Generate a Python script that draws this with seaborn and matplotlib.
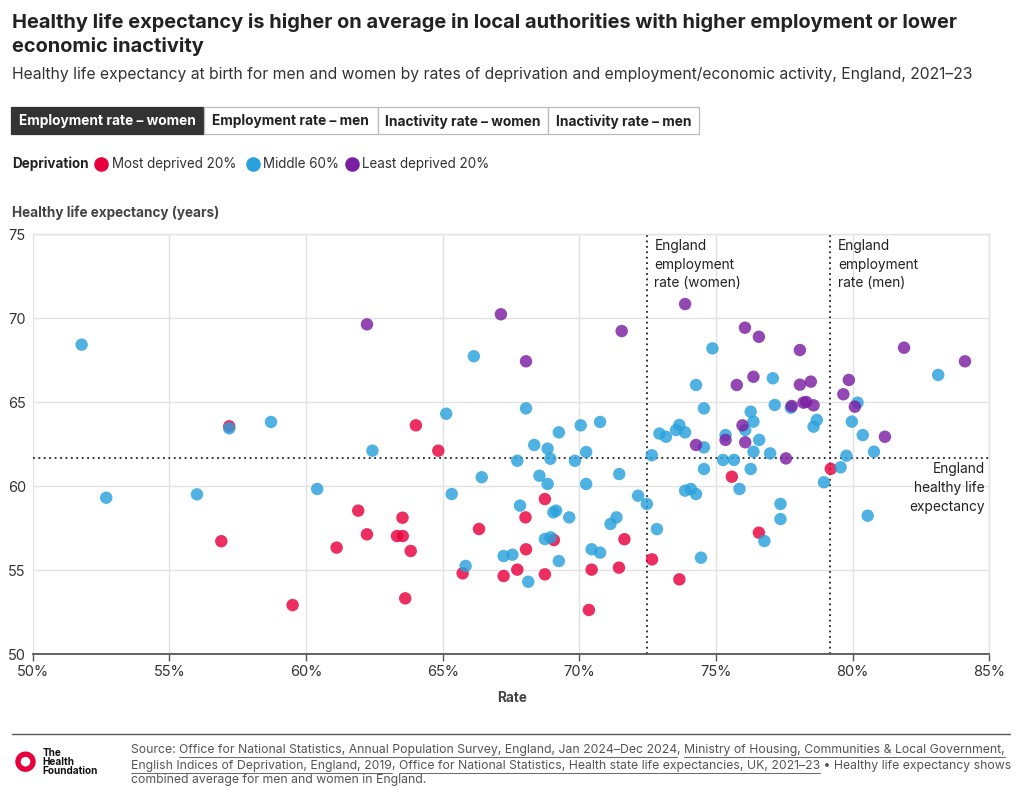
import matplotlib
matplotlib.use("Agg")
import matplotlib.pyplot as plt
import seaborn as sns
import pandas as pd
from matplotlib.patches import Rectangle, Wedge
from matplotlib.transforms import IdentityTransform

# ---------------- data ----------------
most_rate = [57.19, 56.90, 59.51, 61.12, 64.02, 64.84, 68.74, 61.91, 68.03, 63.53,
             66.33, 62.23, 63.33, 63.54, 63.83, 69.07, 71.65, 68.05, 72.66, 65.73,
             67.23, 67.73, 68.74, 70.45, 71.45, 63.63, 70.35, 75.58, 79.20, 76.57, 73.66]
most_hle = [63.57, 56.73, 52.93, 56.35, 63.63, 62.12, 59.24, 58.55, 58.15, 58.13,
            57.46, 57.14, 57.04, 57.04, 56.15, 56.80, 56.85, 56.25, 55.65, 54.82,
            54.66, 55.04, 54.76, 55.04, 55.16, 53.33, 52.64, 60.57, 61.04, 57.24, 54.46]

mid_rate = [51.79, 52.69, 56.01, 57.19, 58.72, 60.41, 66.14, 68.05, 65.13, 70.76,
            70.05, 69.25, 72.93, 68.35, 68.84, 62.43, 70.25, 68.94, 67.73, 69.84,
            72.65, 71.46, 68.54, 66.43, 68.84, 70.25, 65.33, 72.15, 72.47, 67.83,
            69.05, 69.15, 69.63, 71.36, 71.14, 72.84, 68.74, 68.95, 70.45, 70.76,
            67.23, 67.55, 69.25, 65.84, 68.13, 74.87, 74.27, 77.08, 74.56, 77.15,
            77.74, 78.69, 78.57, 76.27, 76.37, 76.07, 73.66, 73.54, 73.87, 73.17,
            74.56, 75.35, 76.58, 76.37, 76.98, 75.26, 75.66, 74.56, 76.27, 73.87,
            74.08, 74.27, 75.86, 77.36, 77.36, 78.95, 76.77, 74.45, 83.13, 80.18,
            79.97, 80.37, 80.78, 79.77, 79.56, 80.55]
mid_hle = [68.43, 59.32, 59.52, 63.45, 63.83, 59.84, 67.74, 64.64, 64.32, 63.83,
           63.63, 63.21, 63.14, 62.46, 62.24, 62.12, 62.04, 61.64, 61.52, 61.52,
           61.85, 60.73, 60.63, 60.54, 60.14, 60.14, 59.54, 59.44, 58.95, 58.85,
           58.45, 58.55, 58.15, 58.15, 57.76, 57.45, 56.86, 56.96, 56.25, 56.05,
           55.85, 55.93, 55.55, 55.26, 54.32, 68.21, 66.03, 66.43, 64.64, 64.84,
           64.68, 63.95, 63.55, 64.44, 63.85, 63.35, 63.65, 63.35, 63.21, 62.95,
           62.32, 63.05, 62.76, 62.06, 61.96, 61.57, 61.57, 61.03, 61.03, 59.74,
           59.84, 59.54, 59.84, 58.95, 58.05, 60.24, 56.74, 55.75, 66.63, 64.98,
           63.85, 63.05, 62.06, 61.82, 61.13, 58.25]

least_rate = [62.23, 67.13, 71.55, 68.05, 73.87, 76.06, 76.57, 78.07, 75.76, 76.37,
              78.07, 78.47, 77.77, 78.20, 78.30, 78.57, 75.97, 74.27, 75.35, 76.07,
              77.56, 81.88, 84.11, 79.86, 79.66, 80.08, 81.18]
least_hle = [69.64, 70.24, 69.24, 67.44, 70.85, 69.44, 68.90, 68.11, 66.03, 66.52,
             66.05, 66.23, 64.78, 64.98, 65.02, 64.82, 63.63, 62.46, 62.76, 62.62,
             61.66, 68.25, 67.44, 66.33, 65.48, 64.74, 62.95]

groups = ["Most deprived 20%", "Middle 60%", "Least deprived 20%"]
colors = ["#E8003D", "#2AA1DC", "#7B1FA2"]
x_ticks = [50, 55, 60, 65, 70, 75, 80, 85]
y_ticks = [50, 55, 60, 65, 70, 75]
england_emp_women = 72.47
england_emp_men = 79.17
england_hle = 61.7

buttons = ["Employment rate – women", "Employment rate – men",
           "Inactivity rate – women", "Inactivity rate – men"]

df = pd.DataFrame({
    "rate": most_rate + mid_rate + least_rate,
    "hle": most_hle + mid_hle + least_hle,
    "group": [groups[0]] * len(most_rate) + [groups[1]] * len(mid_rate) + [groups[2]] * len(least_rate),
})

# ---------------- figure ----------------
sns.set_theme(style="white")
plt.rcParams["font.family"] = ["Inter", "DejaVu Sans"]

W, H = 1020, 799
fig = plt.figure(figsize=(W / 100, H / 100), dpi=100)
fig.patch.set_facecolor("white")


def fx(px):
    return px / W


def fy(py):
    return 1 - py / H


def T(px, py, s, **kw):
    kw.setdefault("va", "center")
    kw.setdefault("ha", "left")
    return fig.text(fx(px), fy(py), s, **kw)


ax_l, ax_r, ax_t, ax_b = 32.7, 989.3, 234.3, 654.3
ax = fig.add_axes([fx(ax_l), fy(ax_b), (ax_r - ax_l) / W, (ax_b - ax_t) / H])

sns.scatterplot(data=df, x="rate", y="hle", hue="group", hue_order=groups,
                palette=colors, s=80, alpha=0.82, linewidth=0, legend=False,
                ax=ax, zorder=3)

ax.set_xlim(50, 85)
ax.set_ylim(50, 75)
ax.set_xticks(x_ticks)
ax.set_yticks(y_ticks)
ax.set_xticklabels([f"{t}%" for t in x_ticks])
ax.set_yticklabels([str(t) for t in y_ticks])
ax.grid(True, color="#E2E2E2", lw=1)
ax.set_axisbelow(True)
for side in ["top", "right"]:
    ax.spines[side].set_color("#E2E2E2")
    ax.spines[side].set_linewidth(1)
ax.spines["left"].set_visible(False)
ax.spines["bottom"].set_color("#555555")
ax.spines["bottom"].set_linewidth(1.3)
ax.tick_params(axis="x", length=5, width=1, color="#555555", labelsize=10.5,
               labelcolor="#333333", pad=3, direction="out", bottom=True)
ax.tick_params(axis="y", length=0, labelsize=10.5, labelcolor="#333333", pad=5, left=True)
ax.set_xlabel("")
ax.set_ylabel("")

# reference lines
dot = (0, (1, 2))
ax.axvline(england_emp_women, color="#222222", lw=1.3, ls=dot, zorder=2)
ax.axvline(england_emp_men, color="#222222", lw=1.3, ls=dot, zorder=2)
ax.axhline(england_hle, color="#222222", lw=1.3, ls=dot, zorder=2)

# annotations
ann_kw = dict(fontsize=9.9, color="#222222", linespacing=1.42, va="top")
T(654.3, 239.0, "England\nemployment\nrate (women)", **ann_kw)
T(838, 239.0, "England\nemployment\nrate (men)", **ann_kw)
T(985, 462.3, "England\nhealthy life\nexpectancy", ha="right", ma="right", **ann_kw)

# axis titles
T(12, 213, "Healthy life expectancy (years)", fontsize=9.75, fontweight="bold", color="#444444")
T(512, 698, "Rate", fontsize=9.75, fontweight="bold", color="#444444", ha="center")

# title & subtitle
T(12, 22, "Healthy life expectancy is higher on average in local authorities with higher employment or lower",
  fontsize=14.4, fontweight="bold", color="#222222")
T(12, 46, "economic inactivity", fontsize=14.4, fontweight="bold", color="#222222")
T(12, 75, "Healthy life expectancy at birth for men and women by rates of deprivation and employment/economic activity, England, 2021–23",
  fontsize=11.3, color="#333333")

# buttons
btn_edges = [11, 203.5, 377.5, 548, 699.5]
btn_top, btn_bot = 107.5, 134.3
for i, lab in enumerate(buttons):
    x0, x1 = btn_edges[i], btn_edges[i + 1]
    active = i == 0
    fig.add_artist(Rectangle((fx(x0), fy(btn_bot)), (x1 - x0) / W, (btn_bot - btn_top) / H,
                             transform=fig.transFigure,
                             facecolor="#333333" if active else "white",
                             edgecolor="#333333" if active else "#BBBBBB", lw=0.9, zorder=1))
    T((x0 + x1) / 2, (btn_top + btn_bot) / 2 + 0.5, lab, ha="center", fontsize=9.9, fontweight="bold",
      color="white" if active else "#222222", zorder=2)

# legend
T(12, 164, "Deprivation", fontsize=9.7, fontweight="bold", color="#222222")
leg_items = [(101, 112, groups[0]), (253.5, 263, groups[1]), (352.5, 362, groups[2])]
for (cx, tx, lab), col in zip(leg_items, colors):
    fig.add_artist(plt.Line2D([fx(cx)], [fy(164)], transform=fig.transFigure, marker="o",
                              markersize=10.5, color=col, markeredgewidth=0, linestyle="none"))
    T(tx, 164, lab, fontsize=9.7, color="#333333")

# footer rule
fig.add_artist(plt.Line2D([fx(12), fx(1010)], [fy(734), fy(734)], transform=fig.transFigure,
                          color="#555555", lw=1))

# logo
fig.add_artist(Wedge((25.5, H - 761.7), 10.2, 0, 360, width=5.4,
                     transform=IdentityTransform(), facecolor="#E8003D", edgecolor="none"))
for py, s in [(752.5, "The"), (761.8, "Health"), (771.2, "Foundation")]:
    T(42.5, py, s, fontsize=7.2, fontweight="bold", color="#111111", linespacing=1.0)

# source text with underlined links
src_lines = [
    [("Source: ", False),
     ("Office for National Statistics, Annual Population Survey, England, Jan 2024–Dec 2024", True),
     (", ", False),
     ("Ministry of Housing, Communities & Local Government,", True)],
    [("English Indices of Deprivation, England, 2019", True),
     (", ", False),
     ("Office for National Statistics, Health state life expectancies, UK, 2021–23", True),
     (" • Healthy life expectancy shows", False)],
    [("combined average for men and women in England.", False)],
]
src_y = [750, 765.5, 780.5]
fig.canvas.draw()
renderer = fig.canvas.get_renderer()
for segs, py in zip(src_lines, src_y):
    xpx = 131
    for s, ul in segs:
        t = fig.text(fx(xpx), fy(py), s, fontsize=8.8, color="#555555", va="center", ha="left")
        bb = t.get_window_extent(renderer=renderer)
        if ul:
            ybase = fy(py + 7.0)
            fig.add_artist(plt.Line2D([fx(xpx), fx(xpx + bb.width)], [ybase, ybase],
                                      transform=fig.transFigure, color="#666666", lw=0.7))
        xpx += bb.width

fig.savefig("out.png", dpi=100, facecolor="white")
